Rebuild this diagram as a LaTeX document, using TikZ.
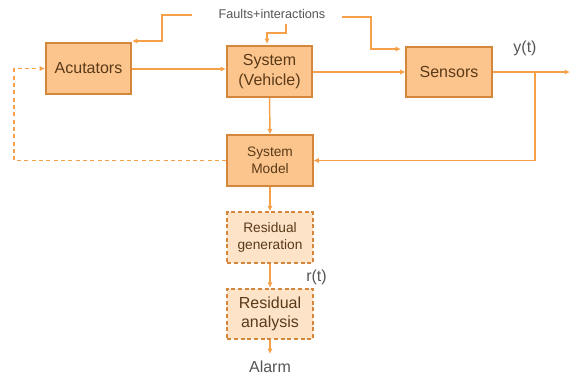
\documentclass[tikz,border=0pt]{standalone}
\usepackage{fontspec}
\setmainfont{Liberation Sans}
\usetikzlibrary{arrows.meta}
\definecolor{boxfill}{HTML}{FCC58D}
\definecolor{boxedge}{HTML}{D4873A}
\definecolor{dimfill}{HTML}{FDE3C8}
\definecolor{wire}{HTML}{F7A04A}
\definecolor{boxtext}{HTML}{5A3A18}
\definecolor{labeltext}{HTML}{555555}
\tikzset{
  block/.style={draw=boxedge, fill=boxfill, line width=1.3pt, minimum width=64pt,
    minimum height=38pt, inner sep=1pt, align=center, text=boxtext, font=\fontsize{12}{15.5}\selectfont},
  smallblock/.style={block, font=\fontsize{10.3}{13}\selectfont},
  dimblock/.style={block, fill=dimfill, dashed, dash pattern=on 3pt off 2pt},
  wireline/.style={draw=wire, line width=1.1pt, -{Latex[length=4pt,width=4pt]}},
  dashwire/.style={wireline, dashed, dash pattern=on 3pt off 2.5pt},
  thinwire/.style={draw=wire, line width=0.9pt, -{Latex[length=4pt,width=4pt]}},
  lbl/.style={text=labeltext, font=\fontsize{12}{14}\selectfont, inner sep=0pt}
}
\begin{document}
\begin{tikzpicture}[x=0.75pt, y=-0.75pt]
\useasboundingbox (0,0) rectangle (570,376);

\node[block] (act) at (88.5,68.5) {Acutators};
\node[block] (sys) at (269.5,71.5) {System\\(Vehicle)};
\node[block] (sens) at (449,72) {Sensors};
\node[smallblock] (model) at (270,160.5) {System\\Model};
\node[dimblock, font=\fontsize{10.3}{12.5}\selectfont] (rgen) at (270,237.5) {Residual\\generation};
\node[dimblock, font=\fontsize{12}{14}\selectfont] (rana) at (270,314) {Residual\\analysis};

\node[lbl, font=\fontsize{9.5}{11}\selectfont] (faults) at (272,13.5) {Faults+interactions};
\node[lbl] (yt) at (525,48) {y(t)};
\node[lbl] (rt) at (316.5,277) {r(t)};
\node[lbl] (alarm) at (270,367) {Alarm};

% fault injection lines
\coordinate (fl0) at (192,15);
\coordinate (fl1) at (162,15);
\coordinate (fl2) at (162,41);
\coordinate (fl3) at (132,41);
\coordinate (fm0) at (286,24);
\coordinate (fm1) at (286,33);
\coordinate (fm2) at (267,33);
\coordinate (fm3) at (267,44);
\coordinate (fr0) at (342,17);
\coordinate (fr1) at (371,17);
\coordinate (fr2) at (371,49);
\coordinate (fr3) at (401,49);
\draw[thinwire] (fl0) -- (fl1) -- (fl2) -- (fl3);
\draw[thinwire] (fm0) -- (fm1) -- (fm2) -- (fm3);
\draw[thinwire] (fr0) -- (fr1) -- (fr2) -- (fr3);

% main signal path
\draw[wireline] (act.east |- 0,69) -- (sys.west |- 0,69);
\draw[wireline] (sys.east |- 0,72) -- (sens.west |- 0,72);
\coordinate (out) at (570,72);
\coordinate (branch) at (535,72);
\draw[wireline] (sens.east |- 0,72) -- (out);
\draw[wireline] (branch) |- (model.east);
\draw[wireline] (sys.south) -- (model.north);
\draw[wireline] (model.south) -- (rgen.north);
\draw[wireline] (rgen.south) -- (rana.north);
\coordinate (alarmtip) at (270,354);
\draw[wireline] (rana.south) -- (alarmtip);

% model feedback to the actuators
\coordinate (fb) at (14,160.5);
\draw[dashwire] (model.west) -- (fb) |- (act.west);
\end{tikzpicture}
\end{document}
